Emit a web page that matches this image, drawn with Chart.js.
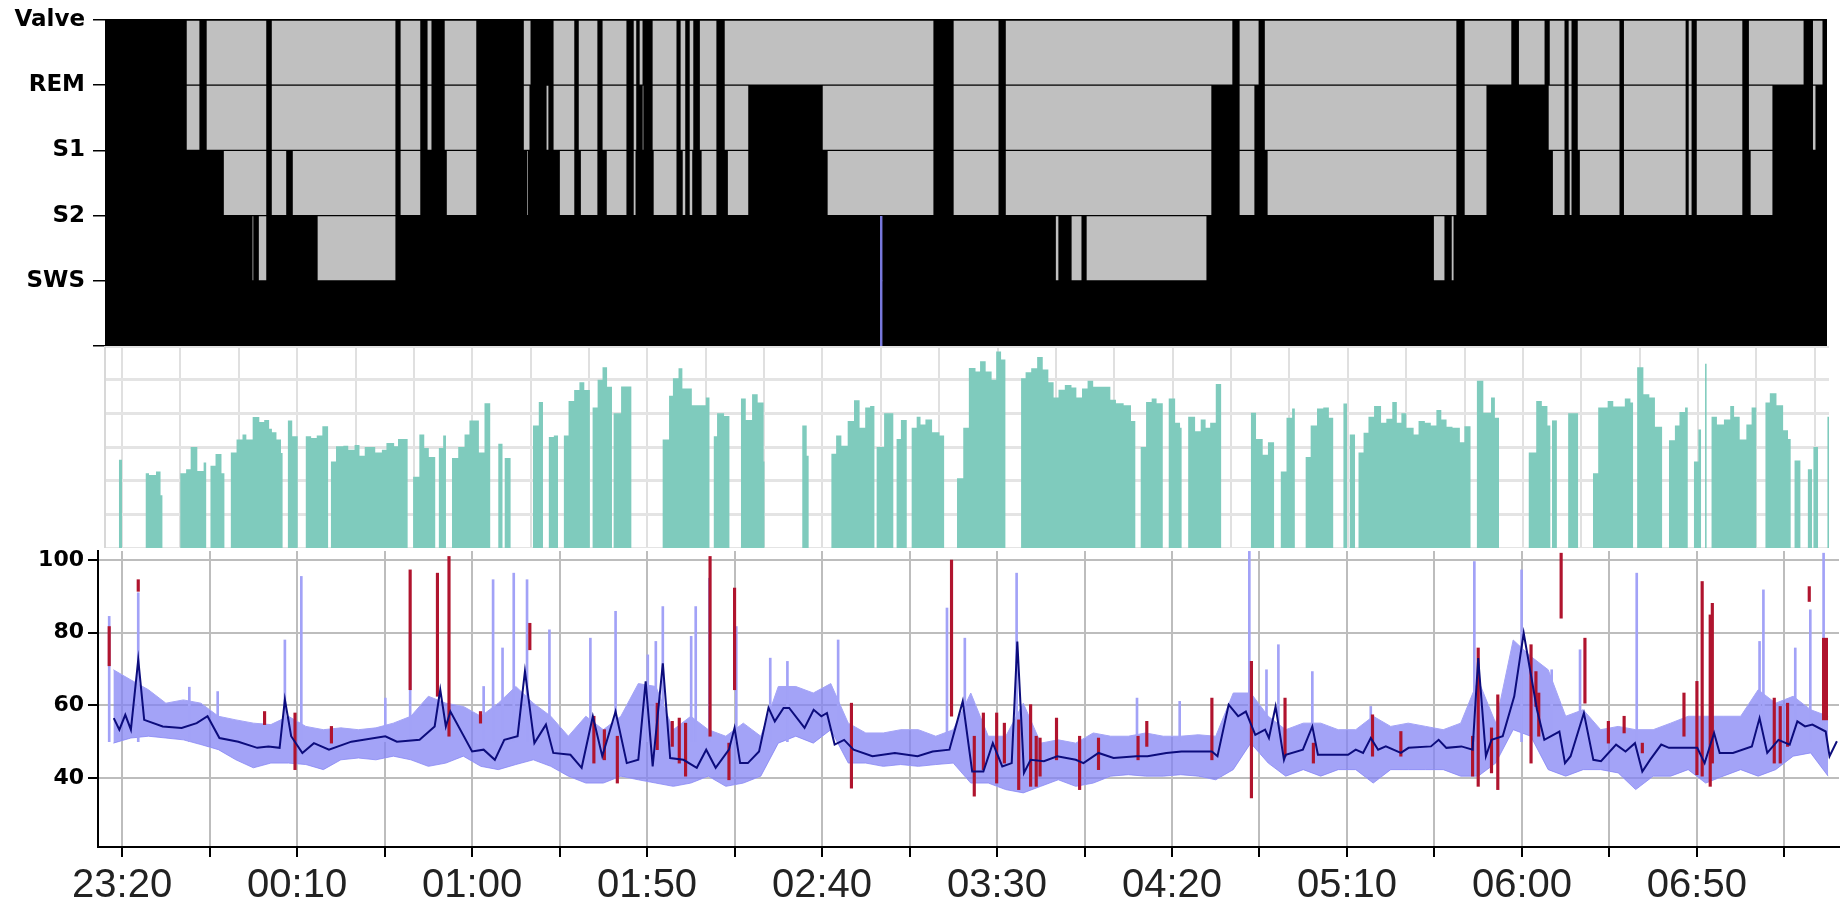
<!DOCTYPE html>
<html>
<head>
<meta charset="utf-8">
<script src="https://cdn.jsdelivr.net/npm/chart.js@4.4.1/dist/chart.umd.min.js"></script>
<style>
  body { margin: 0; width: 1845px; height: 908px; overflow: hidden; position: relative; background: #fff; }
  canvas { position: absolute; left: 0; }
  #hypno { top: -6px; }
  #spo { top: 346px; }
  #hr { top: 529px; }
</style>
</head>
<body>
<canvas id="hypno" width="1845" height="378"></canvas>
<canvas id="spo" width="1845" height="202"></canvas>
<canvas id="hr" width="1845" height="379"></canvas>
<script>
// all times are minutes after 23:20
const stageLabels = ['Valve', 'REM', 'S1', 'S2', 'SWS', ''];
const timeLabels = ['23:20', '00:10', '01:00', '01:50', '02:40', '03:30', '04:20', '05:10', '06:00', '06:50'];
const hrTicks = [40, 60, 80, 100];

// hypnogram grey blocks, one list per band [start, end]
const bandValveRem = [[18.3,22.3],[24.0,41.4],[42.6,78.3],[79.4,85.4],[87.1,88.6],[92.0,101.4],[114.6,116.9],[123.1,129.4],[130.3,136.0],[137.1,144.3],[146.0,147.1],[147.7,148.9],[151.4,158.6],[159.4,161.1],[162.0,163.4],[164.9,170.0],[172.0,232.0],[237.4,250.6],[252.3,317.4],[319.1,324.9],[326.3,381.4],[383.4,397.1],[398.9,406.6],[407.7,412.3],[413.1,414.3],[415.7,428.0],[428.9,446.9],[447.4,448.6],[449.7,463.1],[464.6,480.6],[482.9,486.0]];
const bandRemS1 = [[18.3,22.3],[24.0,41.4],[42.6,78.3],[79.4,85.4],[87.1,88.6],[92.0,101.4],[114.6,116.6],[121.1,122.0],[123.1,129.4],[130.3,136.0],[137.1,144.3],[146.0,147.1],[148.6,149.1],[151.4,158.6],[159.4,161.1],[162.0,163.4],[164.9,170.0],[172.0,179.1],[200.0,232.0],[237.4,250.6],[252.3,311.4],[319.1,323.7],[326.3,381.4],[383.4,390.0],[407.4,412.3],[413.1,414.3],[415.7,428.0],[428.9,446.9],[447.4,448.6],[449.7,463.1],[464.6,471.7],[482.9,484.0]];
const bandS1S2 = [[28.9,41.4],[42.6,47.1],[48.6,78.3],[79.4,85.4],[92.6,101.4],[115.7,116.0],[124.9,129.4],[130.9,136.0],[138.3,144.3],[146.0,146.9],[151.7,158.6],[160.0,161.1],[162.0,163.1],[165.4,170.0],[172.9,179.1],[201.4,232.0],[237.4,250.6],[252.3,311.4],[319.1,323.7],[327.1,381.4],[383.4,390.0],[408.6,412.3],[413.4,414.3],[416.3,428.0],[428.9,446.9],[447.4,448.6],[449.7,463.1],[465.1,471.7]];
const bandS2Sws = [[37.1,37.7],[38.9,41.4],[55.7,78.3],[266.6,267.7],[271.1,274.3],[275.4,310.0],[374.6,378.0],[379.7,380.6]];
const markerMinute = 216.9;

// middle panel steps [start, end, value]
const tealRuns = [
  [-0.9,0.0,2.62],
  [6.7,7.7,2.22],[7.7,9.7,2.17],[9.7,11.0,2.27],[11.0,11.6,1.57],
  [16.6,18.3,2.22],[18.3,19.6,2.34],[19.6,21.5,3.0],[21.5,23.3,2.29],[23.3,24.1,2.54],
  [25.2,26.7,2.44],[26.7,28.4,2.79],[28.4,29.3,2.22],
  [31.0,32.7,2.84],[32.7,34.4,3.22],[34.4,35.5,3.37],[35.5,37.3,3.22],[37.3,39.2,3.89],[39.2,40.6,3.74],[40.6,42.0,3.8],[42.0,42.8,3.54],[42.8,44.1,3.44],[44.1,45.4,3.22],[45.4,45.9,2.82],
  [47.3,48.6,3.79],[48.6,50.2,3.32],
  [52.4,54.0,3.32],[54.0,55.6,3.27],[55.6,57.2,3.34],[57.2,58.9,3.62],
  [59.6,61.1,2.57],[61.1,63.2,3.02],[63.2,64.6,3.04],[64.6,66.4,2.92],[66.4,67.8,3.06],[67.8,69.3,2.74],[69.3,72.3,3.0],[72.3,74.2,2.84],[74.2,75.5,2.92],[75.5,77.7,3.12],[77.7,78.8,3.02],[78.8,81.6,3.24],
  [83.1,84.9,2.12],[84.9,86.3,3.37],[86.3,87.6,2.97],[87.6,89.5,2.7],
  [90.4,91.7,2.97],[91.7,92.5,3.34],
  [94.2,96.0,2.67],[96.0,97.8,3.0],[97.8,99.2,3.37],[99.2,101.9,3.79],[101.9,103.5,2.84],[103.5,105.2,4.3],
  [107.4,108.7,3.1],
  [109.2,111.0,2.67],
  [117.3,119.0,3.64],[119.0,120.2,4.34],
  [121.8,123.3,3.3],[123.3,124.5,3.34],
  [126.1,127.5,3.34],[127.5,129.1,4.37],[129.1,130.6,4.69],[130.6,132.0,4.92],[132.0,133.6,4.69],
  [134.3,135.8,4.17],[135.8,137.2,5.0],[137.2,138.5,5.37],[138.5,139.9,4.79],
  [140.3,142.5,4.0],[142.5,145.5,4.8],
  [154.3,156.2,3.22],[156.2,157.3,4.52],[157.3,158.9,5.04],[158.9,160.0,5.34],[160.0,162.7,4.74],[162.7,166.7,4.24],[166.7,167.8,4.47],
  [168.9,169.9,3.32],[169.9,171.9,4.0],[171.9,173.5,3.92],
  [176.7,178.1,4.44],[178.1,179.9,3.8],[179.9,181.5,4.57],[181.5,183.2,4.32],[183.2,183.5,2.57],
  [194.2,195.5,3.64],[195.5,196.1,2.74],
  [202.5,203.9,2.8],[203.9,205.4,3.34],[205.4,207.2,3.04],[207.2,209.0,3.77],[209.0,210.6,4.39],[210.6,212.2,3.57],[212.2,213.6,4.17],[213.6,214.9,4.22],
  [215.4,217.6,3.0],[217.6,220.3,4.0],
  [221.1,222.4,3.24],[222.4,224.1,3.8],
  [225.4,226.9,3.57],[226.9,228.0,3.9],[228.0,229.4,3.67],[229.4,231.3,3.82],[231.3,233.4,3.44],[233.4,234.8,3.34],
  [238.4,240.2,2.07],[240.2,241.8,3.57],[241.8,243.7,5.35],[243.7,245.0,5.24],[245.0,246.6,5.55],[246.6,248.3,5.24],[248.3,249.6,5.0],[249.6,251.0,5.84],[251.0,252.3,5.6],
  [256.7,258.0,5.04],[258.0,259.6,5.22],[259.6,261.3,5.34],[261.3,262.9,5.67],[262.9,264.5,5.3],[264.5,266.0,4.92],[266.0,267.4,4.47],[267.4,269.2,4.7],[269.2,271.1,4.84],[271.1,272.5,4.77],[272.5,274.1,4.47],[274.1,275.7,4.74],[275.7,277.3,4.97],[277.3,282.2,4.79],[282.2,283.8,4.4],[283.8,286.0,4.3],[286.0,288.1,4.24],[288.1,289.4,3.77],
  [290.8,292.4,3.0],[292.4,294.0,4.34],[294.0,295.4,4.44],[295.4,297.2,4.3],
  [298.8,300.7,4.44],[300.7,302.1,3.72],[302.1,302.6,3.57],
  [304.4,306.4,3.9],[306.4,308.0,3.47],[308.0,309.4,3.82],[309.4,310.7,3.57],[310.7,312.3,3.72],[312.3,313.9,4.87],
  [322.3,323.8,4.02],[323.8,325.7,3.24],[325.7,327.2,2.77],[327.2,329.0,3.14],
  [330.8,332.5,2.27],[332.5,334.1,3.87],[334.1,334.9,4.14],
  [337.9,339.4,2.7],[339.4,341.2,3.64],[341.2,343.0,4.14],[343.0,344.6,4.17],[344.6,345.9,3.87],
  [348.7,349.8,4.29],
  [350.5,352.1,3.37],
  [353.0,354.5,2.84],[354.5,355.9,3.42],[355.9,357.5,3.9],[357.5,359.5,4.22],[359.5,361.0,3.72],[361.0,362.7,3.84],[362.7,364.0,4.34],[364.0,365.3,3.72],[365.3,366.7,4.0],[366.7,368.8,3.57],[368.8,370.2,3.37],[370.2,372.0,3.77],[372.0,373.7,3.72],[373.7,375.3,3.64],[375.3,376.7,4.1],[376.7,378.2,3.82],[378.2,379.9,3.6],[379.9,382.0,3.57],[382.0,383.3,3.14],[383.3,385.1,3.62],
  [386.8,388.7,4.97],[388.7,390.9,4.02],[390.9,392.0,4.47],[392.0,393.2,3.87],
  [401.6,403.8,2.84],[403.8,405.4,4.37],[405.4,407.0,4.22],[407.0,407.9,3.64],
  [408.3,409.7,3.79],
  [412.9,415.8,4.0],
  [420.0,421.5,2.22],[421.5,424.2,4.17],[424.2,425.8,4.37],[425.8,429.1,4.2],[429.1,430.7,4.44],[430.7,431.5,4.32],
  [432.6,434.4,5.37],[434.4,436.1,4.57],[436.1,437.7,4.47],[437.7,439.8,3.6],
  [441.7,443.4,3.2],[443.4,444.7,3.64],[444.7,446.3,4.04],[446.3,447.1,4.17],
  [448.8,450.1,2.57],[450.1,450.9,3.52],
  [452.0,452.5,5.47],
  [453.8,455.4,3.9],[455.4,457.4,3.67],[457.4,459.2,3.82],[459.2,460.3,4.22],[460.3,461.9,3.9],[461.9,463.8,3.22],[463.8,465.3,3.67],[465.3,466.7,4.17],
  [469.2,470.5,4.32],[470.5,472.4,4.6],[472.4,474.3,4.24],[474.3,475.7,3.5],[475.7,476.5,3.24],
  [477.5,479.3,2.6],
  [481.3,482.6,2.34],[482.9,484.3,3.0],
  [486.9,488.2,3.9]
];

// heart rate: smoothed trend [minute, bpm]
const hrTrend = [[-2.4,56.5],[-0.8,53.3],[0.9,57.4],[2.5,53.3],[4.6,72.6],[6.3,56],[11.6,54.2],[17,53.8],[21.3,55.1],[24.4,57],[27.8,51],[33.2,50],[38.6,48.3],[41.8,48.7],[45,48.3],[46.5,61.6],[48.3,51.5],[51.5,46.9],[54.8,49.6],[59.1,47.8],[65.5,50],[75.2,51.5],[78.5,50],[85,50.5],[89.3,54.2],[90.9,64.3],[92.5,54.2],[93.8,58.3],[100,47.3],[103.3,47.8],[106.5,45],[109.2,50.5],[113,51.5],[115.1,69.4],[117.8,49.6],[121.1,54.7],[123.2,46.9],[128.1,46.4],[131.3,42.8],[134.5,57],[137.2,46],[141,58.3],[144.2,44.1],[147.5,45],[149.6,66.6],[151.6,43.2],[154.5,71.6],[156.6,45.5],[160.4,45],[164.2,42.8],[166.9,47.8],[169.6,42.8],[173.4,47.8],[175,53.8],[176.6,44.1],[178.8,44.1],[182,47.3],[184.7,59.3],[186.5,55.6],[189,59.3],[190.6,59.3],[195,53.8],[197.6,58.8],[199.8,57],[201.4,57.9],[203.6,49.2],[206.3,50.5],[209,47.8],[214.4,46],[220.8,46.9],[227.3,46],[231.6,47.3],[236.4,47.8],[240.2,61.1],[242.9,41.8],[246.1,41.8],[248.8,49.6],[251.5,43.2],[254.2,44.1],[255.8,77.6],[257.7,41.4],[259.6,45],[263.4,44.6],[267.2,46],[272.5,45],[274.7,44.1],[279,46.9],[283.3,45.5],[289.8,46],[293,46],[298.4,46.9],[302.7,47.3],[311.4,47.3],[313,46],[316.2,60.2],[318.9,57],[321.1,58.3],[323.8,51.9],[326.6,53.3],[327.7,51],[329.6,59.7],[332,45],[332.5,46.4],[337.4,47.8],[340.1,54.2],[341.7,46.4],[350.3,46.4],[352.5,47.8],[354.6,46.9],[356.8,51],[358.9,47.8],[361.1,48.7],[365.4,46.9],[367.6,48.3],[374,48.7],[376.2,50.5],[378.4,48.3],[382.7,48.7],[385.9,47.8],[387.5,73],[389.7,46],[391.3,50.5],[394.5,51.5],[397.8,62.5],[400.5,79.9],[404.3,58.8],[406.4,50.5],[410.7,52.8],[412.3,44.1],[413.9,46],[417.7,57.9],[420.4,45],[422.6,44.6],[426.9,49.2],[429.6,47.3],[432.3,49.6],[434.4,41.8],[436.6,45],[439.8,49.2],[442,48.3],[450.1,48.3],[452.2,44.1],[454.9,52.4],[456.5,46.9],[460.3,46.9],[465.7,48.7],[467.9,56.5],[470.1,46.9],[473.3,50.5],[476.5,49.2],[478.7,55.6],[480.9,54.2],[483,54.7],[486.8,52.8],[487.9,46],[490,50.1]];

// heart rate raw beat band, 5-minute bins starting at -5
const hrBandLow = [49.6,51,51.5,51,50.5,49.2,47.8,45,42.8,44.1,44.1,43.7,42.3,45,45.5,45,46,45,43.2,44.1,46,43.2,42.3,43.7,45,43.2,40.5,38.6,38.6,40.5,39.5,38.6,37.7,38.6,40.5,37.7,38.6,40.5,49.6,51.5,49.6,53.3,44.1,44.1,43.2,43.7,43.2,43.7,44.1,38.6,38.6,36.8,35.9,37.7,39.5,37.7,38.6,40.5,40.9,40.5,40.5,40.9,40.5,39.5,42.3,49.6,44.1,40.5,42.3,40.5,42.3,42.3,38.6,42.3,42.3,42.3,42.3,40.5,40.5,44.1,53.3,51.5,42.3,40.5,42.3,42.3,41.4,36.8,40.5,40.5,42.3,38.6,40.5,42.3,40.5,42.3,46,46.9,40.5];
const hrBandHigh = [69.8,67,64.3,60.6,61.5,60.6,57,56,55.1,54.7,57,54.2,53.3,53.8,53.3,53.8,55.1,57,62.5,60.6,59.7,57,60.6,65.2,60.6,57,51.5,57,53.3,57,66,65.2,53.3,57,53.3,51.5,55.1,51.5,65.2,65.2,63.4,66,55.1,52.4,52.4,53.3,53.3,51.5,53.3,63.4,51.5,51.5,60.6,49.6,50.5,49.6,52.4,51.5,51.5,52.4,51.5,51.5,51.9,51.5,63.4,63.4,57,53.3,55.1,55.1,53.3,53.3,57,54.2,55.1,54.2,53.3,55.1,67,55.1,78,73.5,69.8,57,58.8,53.3,54.2,53.3,53.3,55.1,57,57,57,57,64.3,60.6,62.5,58.8,57];

// isolated tall beats [minute, top]
const blueSpikes = [[-3.7,84.5],[4.6,91],[19.2,65],[27.3,63.8],[46.5,78],[51.2,95.5],[75.2,62],[82.3,80],[103.3,65.2],[106,94.6],[108.7,75.8],[111.9,96.4],[115.7,94.6],[122.1,80.8],[133.8,78.5],[141,85.9],[150.2,73.9],[152.5,77.6],[154.5,87.2],[162.6,79],[163.9,87.2],[167.8,95],[175.5,81.7],[185.2,73],[190.1,72.1],[204.6,78],[235.7,86.8],[240.8,78.5],[255.6,96.4],[290,62],[302.2,61.1],[322.1,102.4],[327,69.8],[330.4,76.7],[340.1,69.3],[356.8,59.7],[386.4,99.6],[399.9,97.3],[408.5,69.8],[416.6,75.3],[432.8,96.4],[467.9,77.6],[469,91.8],[478.1,75.8],[482.4,86.3],[486.2,101.9]];

// artefact beats [minute, low, high]
const redSpikes = [[-3.7,70.9,81.7],[4.6,91.4,94.6],[40.7,54.7,58.3],[49.4,42.3,57.9],[59.8,49.6,54.2],[82.3,64.3,97.3],[90.1,62.5,96.4],[93.4,51.5,101],[102.4,55.1,58.3],[116.5,75.3,82.6],[134.8,44.1,57],[137.8,45,53.3],[141.5,38.6,51.5],[152.9,47.8,60.6],[157.2,48.7,55.6],[159.2,44.1,56.5],[161,40.5,55.1],[168,51.5,101],[173.4,39.5,49.6],[175,64.3,92.3],[208.4,37.2,60.6],[237,57,100],[243.5,35,51.5],[246.1,42.3,57.9],[249.9,38.6,57.9],[252.1,44.1,55.1],[256.2,36.8,56],[259.6,37.7,60.2],[261.2,37.7,51.5],[262.3,40.5,51],[267,45,56.5],[273.6,36.8,51.5],[279,42.3,51],[290.3,45,51.5],[292.8,48.7,55.6],[311.4,45,62],[322.7,34.5,72.1],[332.3,46,62],[340.4,44.1,49.6],[357.3,46,57.4],[365.4,46,52.8],[385.9,40.5,51.5],[387.5,37.7,75.8],[391.3,41.4,53.8],[393.1,36.8,62.9],[402.6,44.1,76.7],[404,59.7,69.3],[404.8,51.5,63.4],[411.2,84,101.9],[418,60.6,78.5],[424.7,49.6,55.6],[429.2,52.4,57],[434.4,46.9,49.6],[446.3,51.5,63.4],[450,40.9,66.6],[451.5,40.5,94.1],[453.8,37.7,84.9],[454.4,44.1,88.1],[472.1,44.1,62],[473.8,44.1,59.7],[475.9,48.7,60.6],[482.1,88.6,92.7],[486.2,56,78.5],[487,56,78.5]];

const family = "'Liberation Sans', Arial, sans-serif";
const boldFamily = "'DejaVu Sans', 'Liberation Sans', sans-serif";

const paintArea = (id, color) => ({
  id: id,
  beforeDraw(chart) {
    const { ctx, chartArea: a } = chart;
    ctx.save();
    ctx.fillStyle = color;
    ctx.fillRect(a.left, a.top, a.right - a.left, a.bottom - a.top);
    ctx.restore();
  }
});

// ---- top: hypnogram
const bands = [bandValveRem, bandRemS1, bandS1S2, bandS2Sws];
const hypnoBlocks = bands.flatMap((segs, i) => segs.map(([s, e]) => ({ x: [s, e], y: i + 0.5 })));
const markerBlocks = [3.5, 4.5].map(y => ({ x: [markerMinute - 0.25, markerMinute + 0.25], y: y }));

new Chart(document.getElementById('hypno'), {
  type: 'bar',
  data: {
    datasets: [
      { data: hypnoBlocks, backgroundColor: '#c0c0c0', borderColor: '#000', borderWidth: 1, borderSkipped: false,
        grouped: false, categoryPercentage: 1, barPercentage: 1 },
      { data: markerBlocks, backgroundColor: '#7878dc', borderWidth: 0,
        grouped: false, categoryPercentage: 1, barPercentage: 1 }
    ]
  },
  options: {
    indexAxis: 'y',
    responsive: false,
    animation: false,
    layout: { padding: { top: 26, bottom: 26, left: 0, right: 18 } },
    plugins: { legend: { display: false }, tooltip: { enabled: false } },
    scales: {
      x: { type: 'linear', min: -4.86, max: 487.1, display: false },
      y: {
        type: 'linear', min: 0, max: 5, reverse: true, offset: false,
        grid: { color: '#000', tickColor: '#000', tickLength: 12, lineWidth: 1.5, offset: false },
        border: { display: false },
        ticks: { stepSize: 1, padding: 8, color: '#000', font: { family: boldFamily, size: 23, weight: 'bold' },
                 callback: v => stageLabels[v] },
        afterFit: s => { s.width = 105; }
      }
    }
  },
  plugins: [paintArea('blackBg', '#000')]
});

// ---- middle: teal steps
const tealPoints = [];
tealRuns.forEach(([s, e, v], i) => {
  tealPoints.push({ x: s, y: v });
  const next = tealRuns[i + 1];
  if (!next || next[0] !== e) {
    tealPoints.push({ x: e, y: v });
    tealPoints.push({ x: e, y: null });
  }
});

new Chart(document.getElementById('spo'), {
  type: 'line',
  data: {
    datasets: [{
      data: tealPoints, stepped: 'before', fill: 'origin', spanGaps: false,
      backgroundColor: '#7fcbbd', borderColor: '#7fcbbd', borderWidth: 0, pointRadius: 0
    }]
  },
  options: {
    responsive: false,
    animation: false,
    layout: { padding: { top: 0, bottom: 0, left: 0, right: 16 } },
    plugins: { legend: { display: false }, tooltip: { enabled: false } },
    scales: {
      x: {
        type: 'linear', min: -4.86, max: 487.4,
        grid: { color: '#e0e0e0', lineWidth: 2, drawTicks: false },
        border: { display: false },
        ticks: { display: false },
        afterBuildTicks: s => {
          const t = [];
          for (let v = 0; v < 487; v += 50 / 3) t.push({ value: v });
          s.ticks = t;
        },
        afterFit: s => { s.height = 0; }
      },
      y: {
        min: 0, max: 6,
        grid: { color: '#e4e4e4', lineWidth: 3, drawTicks: false },
        border: { color: '#d8d8d8', width: 2 },
        ticks: { display: false, stepSize: 1 },
        afterFit: s => { s.width = 105; }
      }
    }
  }
});

// ---- bottom: heart rate
new Chart(document.getElementById('hr'), {
  type: 'bar',
  data: {
    datasets: [
      { type: 'line', data: hrTrend.map(([m, v]) => ({ x: m, y: v })), borderColor: '#0c0c7c', borderWidth: 2,
        pointRadius: 0, tension: 0, order: 0 },
      { data: redSpikes.map(([m, lo, hi]) => ({ x: m, y: [lo, hi] })), backgroundColor: '#b0142e',
        grouped: false, barThickness: 2.5, order: 1 },
      { data: blueSpikes.map(([m, top]) => ({ x: m, y: [50, top] })), backgroundColor: '#a2a2f7',
        grouped: false, barThickness: 2, order: 2 },
      { type: 'line', data: hrBandHigh.map((v, i) => ({ x: -2.5 + 5 * i, y: v })), borderColor: '#a4a4f6',
        borderWidth: 1, backgroundColor: 'rgba(128,128,244,0.72)', fill: '+1', pointRadius: 0, tension: 0, order: 3 },
      { type: 'line', data: hrBandLow.map((v, i) => ({ x: -2.5 + 5 * i, y: v })), borderColor: '#a4a4f6',
        borderWidth: 1, pointRadius: 0, tension: 0, order: 4 }
    ]
  },
  options: {
    responsive: false,
    animation: false,
    layout: { padding: { top: 22, bottom: 0, left: 0, right: 6 } },
    plugins: { legend: { display: false }, tooltip: { enabled: false } },
    scales: {
      x: {
        type: 'linear', min: -6.9, max: 490.6, offset: false,
        grid: { color: '#bdbdbd', lineWidth: 2, tickColor: '#000', tickLength: 10, tickWidth: 2, offset: false },
        border: { color: '#000', width: 2 },
        ticks: { autoSkip: false, maxRotation: 0, padding: 5, color: '#222', font: { family, size: 40 },
                 callback: v => (v % 50 === 0 ? timeLabels[v / 50] : '') },
        afterBuildTicks: s => {
          const t = [];
          for (let v = 0; v <= 475; v += 25) t.push({ value: v });
          s.ticks = t;
        },
        afterFit: s => { s.height = 61; }
      },
      y: {
        min: 21, max: 102.5,
        grid: { color: '#bdbdbd', lineWidth: 2, tickColor: '#000', tickLength: 10, tickWidth: 2 },
        border: { color: '#000', width: 2 },
        ticks: { padding: 4, color: '#000', font: { family: boldFamily, size: 22, weight: 'bold' } },
        afterBuildTicks: s => { s.ticks = hrTicks.map(v => ({ value: v })); },
        afterFit: s => { s.width = 98; }
      }
    }
  }
});
</script>
</body>
</html>
